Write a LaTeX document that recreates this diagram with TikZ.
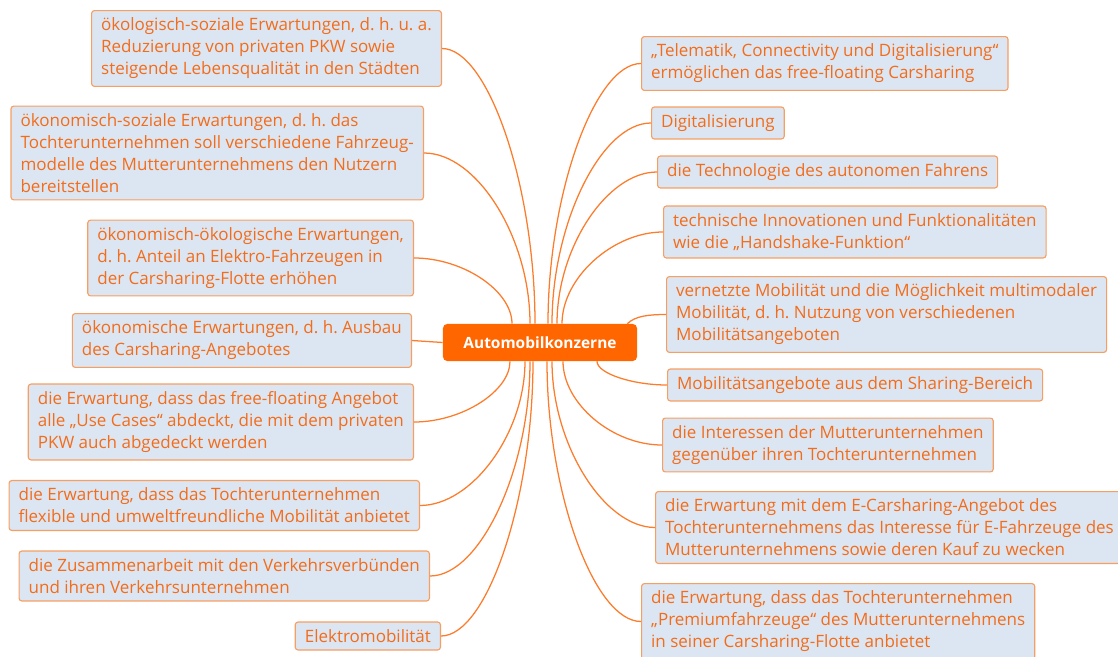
\documentclass[tikz,border=0pt]{standalone}
\usepackage{fontspec}
\setmainfont{Open Sans}
\usepackage{xcolor}
\usetikzlibrary{calc}
\frenchspacing

\definecolor{hubfill}{RGB}{255,102,0}
\definecolor{leaffill}{RGB}{220,230,242}
\definecolor{leafborder}{RGB}{247,158,98}
\definecolor{leaftext}{RGB}{243,108,26}
\definecolor{branchcol}{RGB}{252,124,44}

\begin{document}
\begin{tikzpicture}[
    x=0.025cm, y=-0.025cm,
    every node/.style={font=\fontsize{12.1}{15.6}\selectfont},
    leaf/.style={draw=leafborder, fill=leaffill, rounded corners=2pt, align=left,
                 inner xsep=6.8pt, inner ysep=5.3pt, text=leaftext, line width=0.8pt},
    lleaf/.style={leaf, anchor=east},
    rleaf/.style={leaf, anchor=west},
    hub/.style={fill=hubfill, rounded corners=3pt, text=white,
                font=\fontsize{11}{13}\selectfont\bfseries,
                minimum width=4.85cm, minimum height=0.925cm},
    branch/.style={draw=branchcol, line width=0.9pt}
]
\useasboundingbox (0,0) rectangle (1118,657);

% --- Hub ---
\node[hub] (ak) at (540,342.5) {Automobilkonzerne};

% --- Left band ---
\node[lleaf] (oekosoz) at (442,48.5)
    {ökologisch-soziale Erwartungen, d. h. u. a.\\Reduzierung von privaten PKW sowie\\steigende Lebensqualität in den Städten};
\node[lleaf] (oekonsoz) at (424,153)
    {ökonomisch-soziale Erwartungen, d. h. das\\Tochterunternehmen soll verschiedene Fahrzeug-\\modelle des Mutterunternehmens den Nutzern\\bereitstellen};
\node[lleaf] (oekonoeko) at (414,258)
    {ökonomisch-ökologische Erwartungen,\\d. h. Anteil an Elektro-Fahrzeugen in\\der Carsharing-Flotte erhöhen};
\node[lleaf] (ausbau) at (412,340.5)
    {ökonomische Erwartungen, d. h. Ausbau\\des Carsharing-Angebotes};
\node[lleaf] (usecase) at (414,422)
    {die Erwartung, dass das free-floating Angebot\\alle „Use Cases“ abdeckt, die mit dem privaten\\PKW auch abgedeckt werden};
\node[lleaf] (flexmob) at (420,505.5)
    {die Erwartung, dass das Tochterunternehmen\\flexible und umweltfreundliche Mobilität anbietet};
\node[lleaf] (vbund) at (430,576)
    {die Zusammenarbeit mit den Verkehrsverbünden\\und ihren Verkehrsunternehmen};
\node[lleaf] (emob) at (441,636) {Elektromobilität};

% --- Right band ---
\node[rleaf] (telem) at (641,63.5)
    {„Telematik, Connectivity und Digitalisierung“\\ermöglichen das free-floating Carsharing};
\node[rleaf] (digi) at (651,123) {Digitalisierung};
\node[rleaf] (auton) at (657,172) {die Technologie des autonomen Fahrens};
\node[rleaf] (handshake) at (663,232)
    {technische Innovationen und Funktionalitäten\\wie die „Handshake-Funktion“};
\node[rleaf] (multimod) at (666,314.5)
    {vernetzte Mobilität und die Möglichkeit multimodaler\\Mobilität, d. h. Nutzung von verschiedenen\\Mobilitätsangeboten};
\node[rleaf] (sharing) at (667,385) {Mobilitätsangebote aus dem Sharing-Bereich};
\node[rleaf] (mutter) at (662,445)
    {die Interessen der Mutterunternehmen\\gegenüber ihren Tochterunternehmen};
\node[rleaf] (ecar) at (655,527.5)
    {die Erwartung mit dem E-Carsharing-Angebot des\\Tochterunternehmens das Interesse für E-Fahrzeuge des\\Mutterunternehmens sowie deren Kauf zu wecken};
\node[rleaf] (premium) at (641,621.5)
    {die Erwartung, dass das Tochterunternehmen\\„Premiumfahrzeuge“ des Mutterunternehmens\\in seiner Carsharing-Flotte anbietet};

% --- Branches, upper left ---
\draw[branch] ($(ak.north)+(-5,0)$) .. controls +(0,-138) and +(46,0) .. (oekosoz.east);
\draw[branch] ($(ak.north)+(-10,0)$) .. controls +(0,-86) and +(53,0) .. (oekonsoz.east);
\draw[branch] ($(ak.north)+(-28,0)$) .. controls +(0,-33) and +(49,0) .. (oekonoeko.east);
\draw[branch] (ak.west) -- (ausbau.east);
% --- Branches, lower left ---
\draw[branch] ($(ak.south)+(-30,0)$) .. controls +(0,30) and +(48,0) .. (usecase.east);
\draw[branch] ($(ak.south)+(-15,0)$) .. controls +(0,72) and +(52,0) .. (flexmob.east);
\draw[branch] ($(ak.south)+(-10,0)$) .. controls +(0,108) and +(50,0) .. (vbund.east);
\draw[branch] ($(ak.south)+(-7,0)$) .. controls +(0,138) and +(46,0) .. (emob.east);

% --- Branches, upper right ---
\draw[branch] ($(ak.north)+(8,0)$) .. controls +(0,-130) and +(-46,0) .. (telem.west);
\draw[branch] ($(ak.north)+(12,0)$) .. controls +(0,-100) and +(-50,0) .. (digi.west);
\draw[branch] ($(ak.north)+(17,0)$) .. controls +(0,-76) and +(-50,0) .. (auton.west);
\draw[branch] ($(ak.north)+(22,0)$) .. controls +(0,-46) and +(-50,0) .. (handshake.west);
\draw[branch] ($(ak.north east)+(-10,0)$) .. controls +(8,-8) and +(-16,0) .. (multimod.west);
% --- Branches, lower right ---
\draw[branch] ($(ak.south)+(57,0)$) .. controls +(0,12) and +(-35,0) .. (sharing.west);
\draw[branch] ($(ak.south)+(23,0)$) .. controls +(0,42) and +(-50,0) .. (mutter.west);
\draw[branch] ($(ak.south)+(12,0)$) .. controls +(0,83) and +(-51,0) .. (ecar.west);
\draw[branch] ($(ak.south)+(7,0)$) .. controls +(0,130) and +(-47,0) .. (premium.west);

\end{tikzpicture}
\end{document}
